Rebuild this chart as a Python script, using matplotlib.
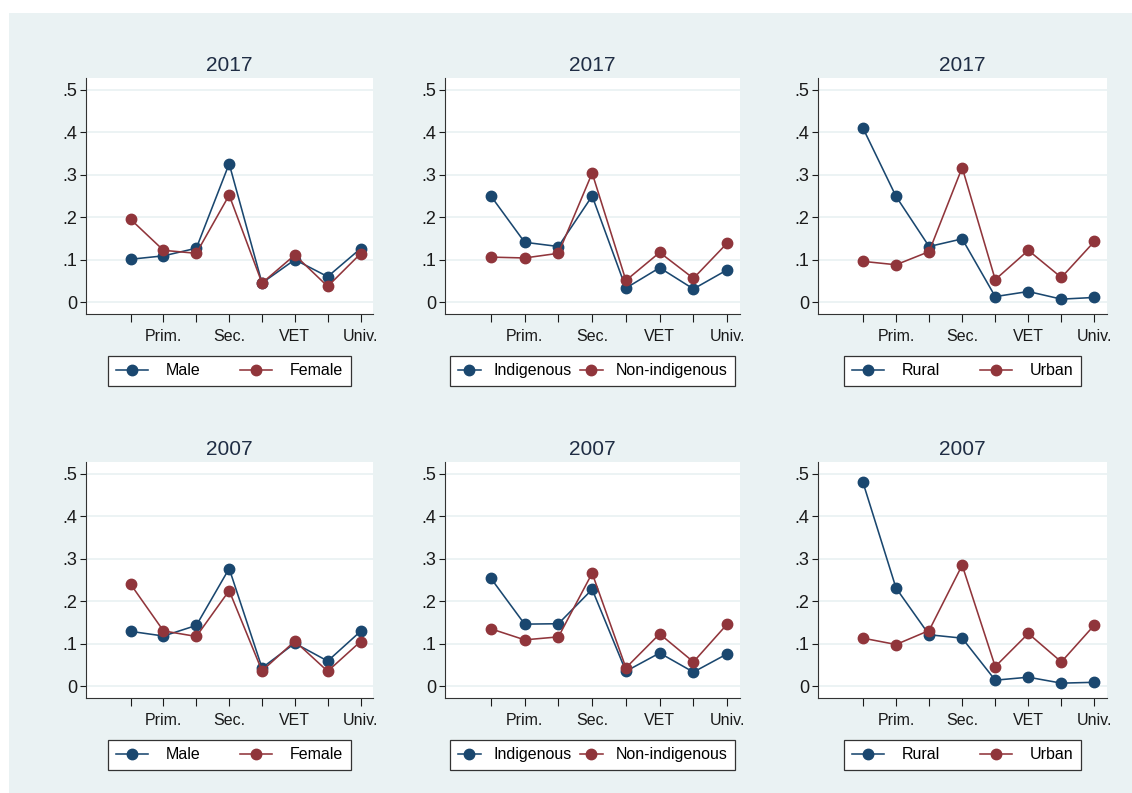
import matplotlib
matplotlib.use('Agg')
import matplotlib.pyplot as plt
from matplotlib.patches import Rectangle

plt.rcParams['font.family'] = ['Liberation Sans', 'DejaVu Sans']

# education levels (x positions 1..8, only every other one labelled)
levels = ['', 'Prim.', '', 'Sec.', '', 'VET', '', 'Univ.']
xpos = [1, 2, 3, 4, 5, 6, 7, 8]

male_2017 = [0.101, 0.109, 0.127, 0.326, 0.045, 0.100, 0.060, 0.126]
female_2017 = [0.195, 0.122, 0.115, 0.252, 0.045, 0.111, 0.037, 0.114]
indig_2017 = [0.250, 0.141, 0.131, 0.250, 0.033, 0.081, 0.031, 0.076]
nonindig_2017 = [0.106, 0.104, 0.115, 0.304, 0.051, 0.117, 0.056, 0.139]
rural_2017 = [0.410, 0.249, 0.131, 0.149, 0.013, 0.025, 0.007, 0.011]
urban_2017 = [0.096, 0.088, 0.119, 0.317, 0.053, 0.122, 0.058, 0.143]

male_2007 = [0.129, 0.118, 0.143, 0.277, 0.043, 0.101, 0.059, 0.129]
female_2007 = [0.240, 0.130, 0.117, 0.225, 0.036, 0.106, 0.035, 0.105]
indig_2007 = [0.254, 0.146, 0.147, 0.228, 0.035, 0.078, 0.033, 0.076]
nonindig_2007 = [0.135, 0.109, 0.116, 0.266, 0.043, 0.123, 0.057, 0.146]
rural_2007 = [0.480, 0.231, 0.121, 0.113, 0.014, 0.021, 0.007, 0.009]
urban_2007 = [0.113, 0.098, 0.131, 0.285, 0.046, 0.124, 0.057, 0.144]

yticks = [0, 0.1, 0.2, 0.3, 0.4, 0.5]
ylabels = ['0', '.1', '.2', '.3', '.4', '.5']

NAVY = '#1a476f'
MAROON = '#90353b'
BG = '#eaf2f3'

W, H = 1132, 793
fig = plt.figure(figsize=(W / 100, H / 100), dpi=100)
fig.patch.set_facecolor('white')
fig.patches.append(Rectangle((9 / W, 0), 1, 1 - 13 / H, transform=fig.transFigure,
                             facecolor=BG, edgecolor='none', zorder=-10))

cols = [(86, 373), (445, 740), (818, 1107)]
rows = [(78, 314), (462, 698)]

# legend spacing per panel type: (handlelength, handletextpad, columnspacing)
wide = (2.0, 1.1, 2.5)
tight = (1.45, 0.8, 0.5)

panels = [
    (0, 0, '2017', male_2017, female_2017, ('Male', 'Female'), wide),
    (0, 1, '2017', indig_2017, nonindig_2017, ('Indigenous', 'Non-indigenous'), tight),
    (0, 2, '2017', rural_2017, urban_2017, ('Rural', 'Urban'), wide),
    (1, 0, '2007', male_2007, female_2007, ('Male', 'Female'), wide),
    (1, 1, '2007', indig_2007, nonindig_2007, ('Indigenous', 'Non-indigenous'), tight),
    (1, 2, '2007', rural_2007, urban_2007, ('Rural', 'Urban'), wide),
]

for r, c, title, s1, s2, names, sp in panels:
    x0, x1 = cols[c]
    y0, y1 = rows[r]
    ax = fig.add_axes([x0 / W, 1 - y1 / H, (x1 - x0) / W, (y1 - y0) / H])
    ax.set_facecolor('white')
    for yt in yticks:
        ax.axhline(yt, color=BG, lw=1.3, zorder=0)
    ax.plot(xpos, s1, '-o', color=NAVY, lw=1.15, ms=7.5, label=names[0], zorder=3)
    ax.plot(xpos, s2, '-o', color=MAROON, lw=1.15, ms=7.5, label=names[1], zorder=3)
    ax.set_xlim(-0.36, 8.38)
    ax.set_ylim(-0.028, 0.528)
    ax.set_xticks(xpos)
    ax.set_xticklabels(levels, fontsize=11.5)
    ax.set_yticks(yticks)
    ax.set_yticklabels(ylabels, fontsize=13)
    ax.tick_params(axis='x', length=6, width=0.8, pad=5, colors='#1a1a1a')
    ax.tick_params(axis='y', length=4.5, width=0.8, pad=2, colors='#1a1a1a')
    for s in ['top', 'right']:
        ax.spines[s].set_visible(False)
    for s in ['left', 'bottom']:
        ax.spines[s].set_linewidth(0.8)
        ax.spines[s].set_color('#333333')
    ax.set_title(title, fontsize=15, color='#1f2d44', pad=5)
    leg = ax.legend(loc='center', bbox_to_anchor=(0.5, -0.2415), ncol=2,
                    fontsize=11.5, frameon=True, fancybox=False, framealpha=1,
                    edgecolor='#333333', handlelength=sp[0], handletextpad=sp[1],
                    columnspacing=sp[2], borderpad=0.5)
    leg.get_frame().set_linewidth(0.9)

fig.savefig('out.png', dpi=100, facecolor=fig.get_facecolor())
